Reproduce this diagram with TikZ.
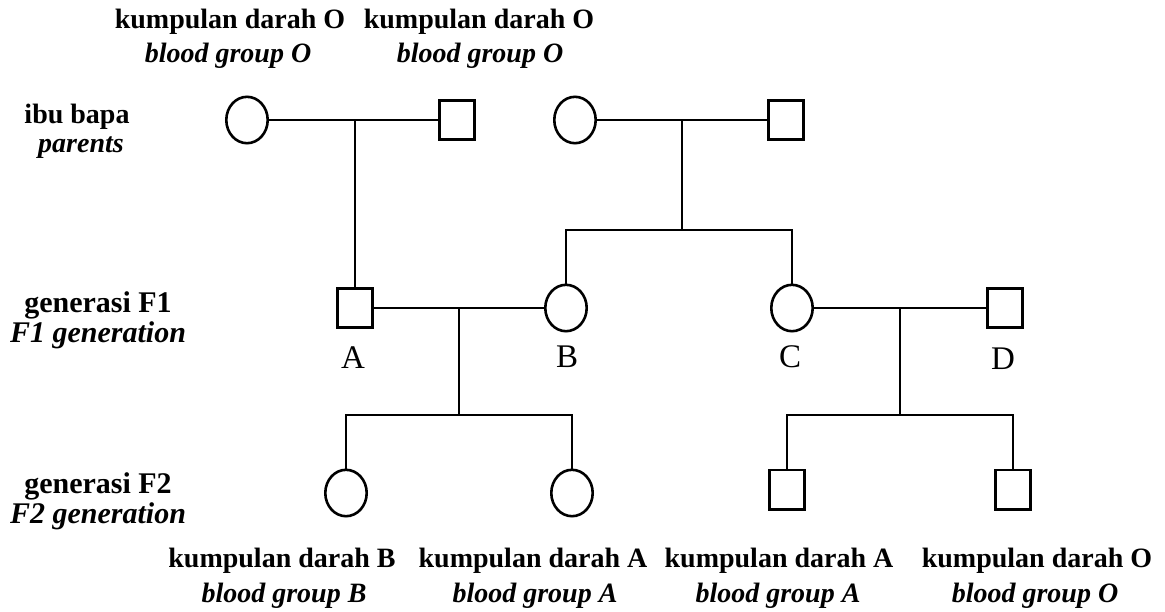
\documentclass[tikz,border=0pt]{standalone}
\usepackage{fontspec}
\setmainfont{Liberation Serif}
\usetikzlibrary{shapes.geometric}
\begin{document}
\begin{tikzpicture}[x=1pt,y=-1pt,
  line width=2.6pt,
  fem/.style={ellipse, draw, line width=2.6pt, minimum width=41.4pt, minimum height=46.4pt, inner sep=0pt},
  mal/.style={rectangle, draw, line width=2.6pt, minimum width=35.4pt, minimum height=39.4pt, inner sep=0pt},
  head/.style={anchor=base, inner sep=0pt, font=\fontsize{28}{32}\selectfont\bfseries},
  headit/.style={anchor=base, inner sep=0pt, font=\fontsize{28}{32}\selectfont\bfseries\itshape},
  gen/.style={anchor=base, inner sep=0pt, font=\fontsize{30}{34}\selectfont\bfseries},
  genit/.style={anchor=base, inner sep=0pt, font=\fontsize{30}{34}\selectfont\bfseries\itshape},
  letter/.style={anchor=base, inner sep=0pt, font=\fontsize{33}{36}\selectfont},
  link/.style={draw, line width=2.6pt}
]
\useasboundingbox (0,0) rectangle (1165,611);
\fill[white] (0,0) rectangle (1165,611);

% top headings
\node[head]   (t1a) at (230,28) {kumpulan darah O};
\node[headit] (t1b) at (228,62) {blood group O};
\node[head]   (t2a) at (479,28) {kumpulan darah O};
\node[headit] (t2b) at (480,62) {blood group O};

% row labels
\node[head]   (r1a) at (77,123) {ibu bapa};
\node[headit] (r1b) at (81,152) {parents};
\node[gen]    (r2a) at (98,312) {generasi F1};
\node[genit]  (r2b) at (98,342) {F1 generation};
\node[gen]    (r3a) at (98,493) {generasi F2};
\node[genit]  (r3b) at (98,523) {F2 generation};

% parents
\node[fem] (p1f) at (247,120) {};
\node[mal] (p1m) at (457,120) {};
\node[fem] (p2f) at (575,120) {};
\node[mal] (p2m) at (786,120) {};

% F1
\node[mal] (A) at (355,308) {};
\node[fem] (B) at (566,308) {};
\node[fem] (C) at (792,308) {};
\node[mal] (D) at (1005,308) {};
\node[letter] (lA) at (353,368) {A};
\node[letter] (lB) at (567,367) {B};
\node[letter] (lC) at (790,367) {C};
\node[letter] (lD) at (1003,369) {D};

% F2
\node[fem] (E) at (346,493) {};
\node[fem] (F) at (572,493) {};
\node[mal] (G) at (787,489.5) {};
\node[mal] (H) at (1013,489.5) {};

% bottom headings
\node[head]   (b1a) at (282,567) {kumpulan darah B};
\node[headit] (b1b) at (284,602) {blood group B};
\node[head]   (b2a) at (533,567) {kumpulan darah A};
\node[headit] (b2b) at (535,602) {blood group A};
\node[head]   (b3a) at (779,567) {kumpulan darah A};
\node[headit] (b3b) at (778,602) {blood group A};
\node[head]   (b4a) at (1037,567) {kumpulan darah O};
\node[headit] (b4b) at (1035,602) {blood group O};

% connectors: parents 1
\draw[link] (p1f.east) -- (p1m.west);
\coordinate (m1) at (A.north |- p1f.east);
\draw[link] (m1) -- (A.north);

% parents 2
\draw[link] (p2f.east) -- (p2m.west);
\coordinate (m2) at (682,120);
\coordinate (s2) at (682,230);
\draw[link] (m2) -- (s2);
\draw[link] (B.north) -- (B.north |- s2) -- (C.north |- s2) -- (C.north);

% A x B
\draw[link] (A.east) -- (B.west);
\coordinate (m3) at (459,308);
\coordinate (s3) at (459,415);
\draw[link] (m3) -- (s3);
\draw[link] (E.north) -- (E.north |- s3) -- (F.north |- s3) -- (F.north);

% C x D
\draw[link] (C.east) -- (D.west);
\coordinate (m4) at (900,308);
\coordinate (s4) at (900,415);
\draw[link] (m4) -- (s4);
\draw[link] (G.north) -- (G.north |- s4) -- (H.north |- s4) -- (H.north);
\end{tikzpicture}
\end{document}
